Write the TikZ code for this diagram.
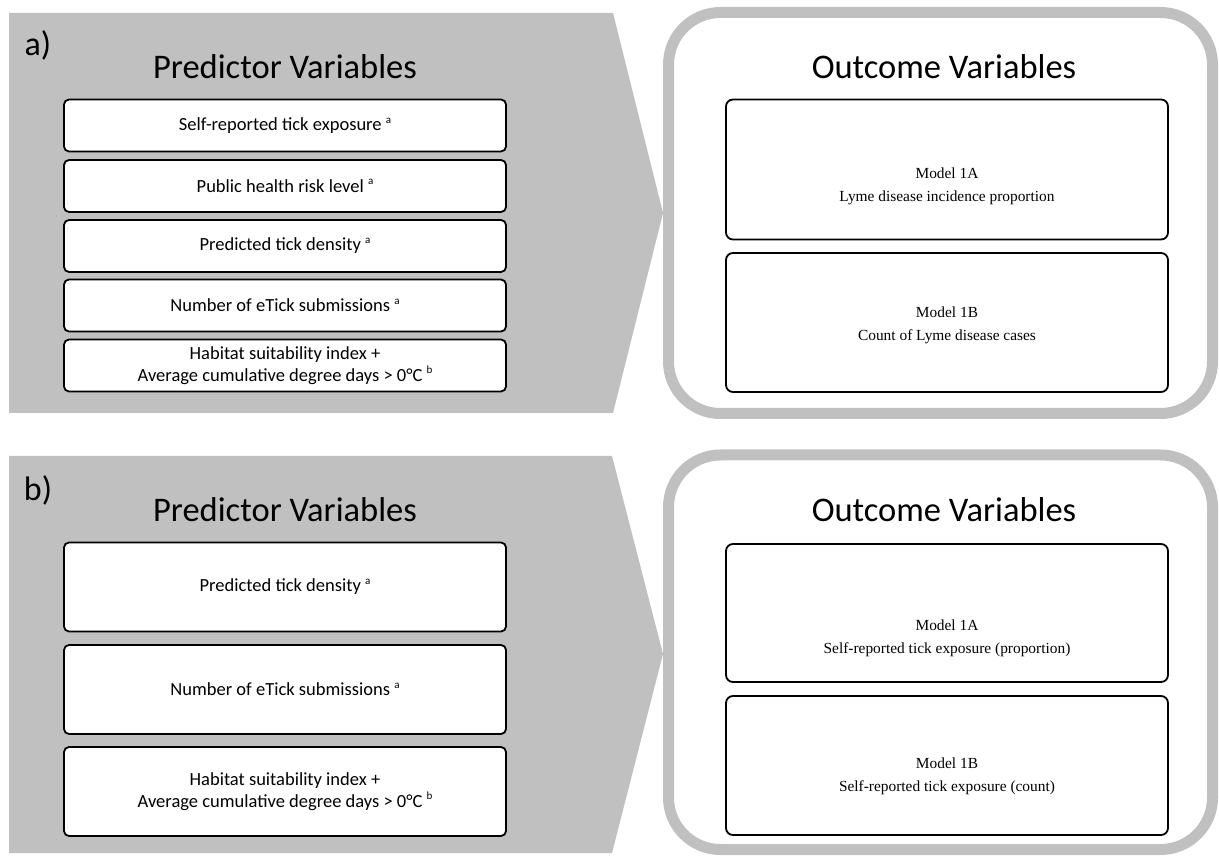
\documentclass[tikz,border=0pt]{standalone}
\usepackage{fontspec}
\setmainfont{Carlito}
\newfontfamily\timesf{Liberation Serif}
\definecolor{panelgray}{RGB}{192,192,192}
\newcommand\tsup[1]{\raisebox{.4em}{\fontsize{11}{11}\selectfont #1}}
\begin{document}
\begin{tikzpicture}[x=1pt,y=-1pt,
  pred/.style={draw=black,line width=1.8pt,fill=white,rounded corners=5pt,minimum width=442pt,inner sep=0pt,align=center,font=\fontsize{18.5}{22}\selectfont},
  outc/.style={draw=black,line width=1.8pt,fill=white,rounded corners=7pt,minimum width=442pt,inner sep=0pt},
  otxt/.style={align=center,font=\timesf\fontsize{15.4}{23}\selectfont},
  head/.style={font=\fontsize{34.5}{40}\selectfont},
  tag/.style={font=\fontsize{34}{40}\selectfont}]
\def\px{285};
\def\ox{947};
\useasboundingbox (0,0) rectangle (1219,858);
% panel a
\fill[panelgray] (9,13) -- (613,13) -- (663,213) -- (613,413) -- (9,413) -- cycle;
\draw[panelgray,line width=11pt,rounded corners=52pt] (668.5,12.5) rectangle (1212.5,413.5);
\node[tag] (ta) at (38,45) {a)};
\node[head] (pa) at (\px,67) {Predictor Variables};
\node[head] (oa) at (944,67) {Outcome Variables};
\node[pred,minimum height=52pt] (a1) at (\px,125.5) {Self-reported tick exposure \tsup{a}};
\node[pred,minimum height=52pt] (a2) at (\px,186) {Public health risk level \tsup{a}};
\node[pred,minimum height=52pt] (a3) at (\px,246) {Predicted tick density \tsup{a}};
\node[pred,minimum height=52pt] (a4) at (\px,305.5) {Number of eTick submissions \tsup{a}};
\node[pred,minimum height=52pt] (a5) at (\px,365.5) {Habitat suitability index +\\Average cumulative degree days > 0°C \tsup{b}};
\node[outc,minimum height=140pt] (ma) at (\ox,169.5) {};
\node[otxt] (maT) at (\ox,186.5) {Model 1A\\Lyme disease incidence proportion};
\node[outc,minimum height=139pt] (mb) at (\ox,322.5) {};
\node[otxt] (mbT) at (\ox,325) {Model 1B\\Count of Lyme disease cases};
% panel b
\fill[panelgray] (9,456) -- (612,456) -- (663,654) -- (612,853) -- (9,853) -- cycle;
\draw[panelgray,line width=11pt,rounded corners=52pt] (668.5,455) rectangle (1212.5,849.5);
\node[tag] (tb) at (38,490) {b)};
\node[head] (pb) at (\px,510) {Predictor Variables};
\node[head] (ob) at (944,510) {Outcome Variables};
\node[pred,minimum height=89pt] (b1) at (\px,587) {Predicted tick density \tsup{a}};
\node[pred,minimum height=89pt] (b2) at (\px,689.5) {Number of eTick submissions \tsup{a}};
\node[pred,minimum height=89pt] (b3) at (\px,791.5) {Habitat suitability index +\\Average cumulative degree days > 0°C \tsup{b}};
\node[outc,minimum height=138pt] (nb1) at (\ox,613) {};
\node[otxt] (nb1T) at (\ox,638.5) {Model 1A\\Self-reported tick exposure (proportion)};
\node[outc,minimum height=139pt] (nb2) at (\ox,765.5) {};
\node[otxt] (nb2T) at (\ox,776) {Model 1B\\Self-reported tick exposure (count)};
\end{tikzpicture}
\end{document}
